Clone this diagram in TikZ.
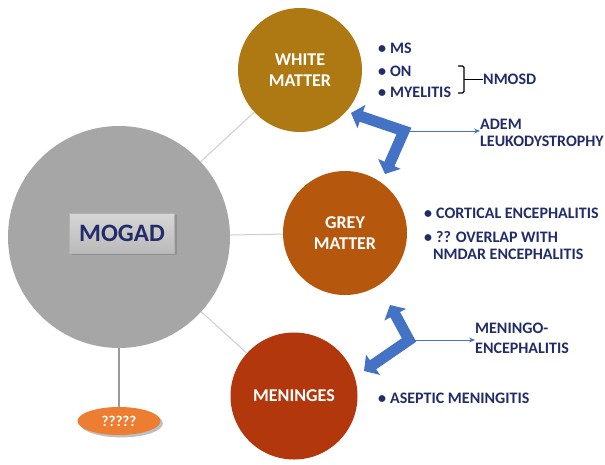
\documentclass[tikz,border=0pt]{standalone}
\usepackage{fontspec}
\setmainfont{Carlito}
\usetikzlibrary{arrows.meta,calc,positioning,shapes.geometric,shadows}
\definecolor{mogadgray}{RGB}{166,166,166}
\definecolor{wmgold}{RGB}{174,121,18}
\definecolor{gmbrown}{RGB}{181,87,12}
\definecolor{menred}{RGB}{179,55,12}
\definecolor{textnavy}{RGB}{33,44,104}
\definecolor{arrowblue}{RGB}{68,114,196}
\definecolor{qorange}{RGB}{237,125,49}
\definecolor{linegray}{RGB}{205,205,205}
\definecolor{boxtop}{RGB}{214,214,214}
\definecolor{boxbottom}{RGB}{186,186,186}

\begin{document}
\begin{tikzpicture}[x=1pt,y=-1pt,>=Latex,
  region/.style={circle,inner sep=0pt,text=white,align=center,
    font=\fontsize{18}{21}\selectfont\bfseries},
  listtext/.style={anchor=west,inner sep=0pt,text=textnavy,align=left,
    font=\fontsize{16}{17}\selectfont\bfseries},
  link/.style={draw=linegray,line width=1pt},
  fatarrow/.style={draw=arrowblue,line width=11pt,line join=miter,
    {Triangle[width=24pt,length=11pt]}-{Triangle[width=24pt,length=11pt]}},
  thinarrow/.style={draw=arrowblue,line width=1pt,-{Stealth[length=6pt,width=5pt]}},
  bracket/.style={draw=black,line width=1.2pt,rounded corners=1.5pt}]
 \useasboundingbox (0,0) rectangle (605,464);
 % hub and the three regions
 \node[circle,fill=mogadgray,minimum size=222pt] (mogad) at (119,237) {};
 \node[draw=gray!60,top color=boxtop,bottom color=boxbottom,drop shadow,
   minimum width=105pt,minimum height=40pt,text=textnavy,
   font=\fontsize{25}{26}\selectfont\bfseries] (mogadlabel) at (122,233) {MOGAD};
 \node[region,fill=wmgold,minimum size=124pt] (white) at (300,70) {WHITE\\MATTER};
 \node[region,fill=gmbrown,minimum size=124pt] (grey) at (345,233) {GREY\\MATTER};
 \node[region,fill=menred,minimum size=127pt] (meninges) at (294,396) {MENINGES};
 \node[ellipse,fill=qorange,drop shadow,minimum width=83pt,minimum height=28pt,
   text=white,font=\fontsize{15}{17}\selectfont\bfseries] (unknown) at (119,421) {?????};
 \draw[link] (mogad) -- (white);
 \draw[link] (mogad) -- (grey);
 \draw[link] (mogad) -- (meninges);
 \draw[link,draw=gray!80,line width=1.4pt] (mogad) -- (unknown);
 % white matter
 \node[listtext] (ms) at (378,48) {\textbullet\hspace{4pt}MS};
 \node[listtext] (on) at (378,71) {\textbullet\hspace{4pt}ON};
 \node[listtext] (myelitis) at (378,92) {\textbullet\hspace{4pt}MYELITIS};
 \node[listtext] (nmosd) at (483,79) {NMOSD};
 \coordinate (bracetop) at (458,66);
 \coordinate (bracebot) at (458,93);
 \coordinate (bracemid) at (464,79.5);
 \draw[bracket] (bracetop) -- ++(6,0) |- (bracebot);
 \draw[bracket] (bracemid) -- (bracemid -| nmosd.west);
 \node[listtext] (adem) at (480,133) {ADEM\\LEUKODYSTROPHY};
 \coordinate (wmtip) at (351,113);
 \coordinate (wmjoin) at (404,131);
 \coordinate (gmtip) at (385,174);
 \draw[thinarrow] (wmjoin) -- (wmjoin -| adem.west);
 \draw[fatarrow] (wmtip) -- (wmjoin) -- (gmtip);
 % grey matter
 \node[listtext] (cortical) at (424,213) {\textbullet\hspace{4pt}CORTICAL ENCEPHALITIS};
 \node[listtext] (overlap) at (424,237) {\textbullet\hspace{4pt}?? OVERLAP WITH};
 \node[listtext] (nmdar) at (433,254) {NMDAR ENCEPHALITIS};
 % meninges
 \node[listtext] (meningo) at (475,338) {MENINGO-\\[3pt]ENCEPHALITIS};
 \coordinate (gmtip2) at (390,305);
 \coordinate (menjoin) at (409,340);
 \coordinate (mentip) at (364,371);
 \draw[thinarrow] (menjoin) -- (menjoin -| meningo.west);
 \draw[fatarrow] (gmtip2) -- (menjoin) -- (mentip);
 \node[listtext] (aseptic) at (378,398) {\textbullet\hspace{4pt}ASEPTIC MENINGITIS};
\end{tikzpicture}
\end{document}
